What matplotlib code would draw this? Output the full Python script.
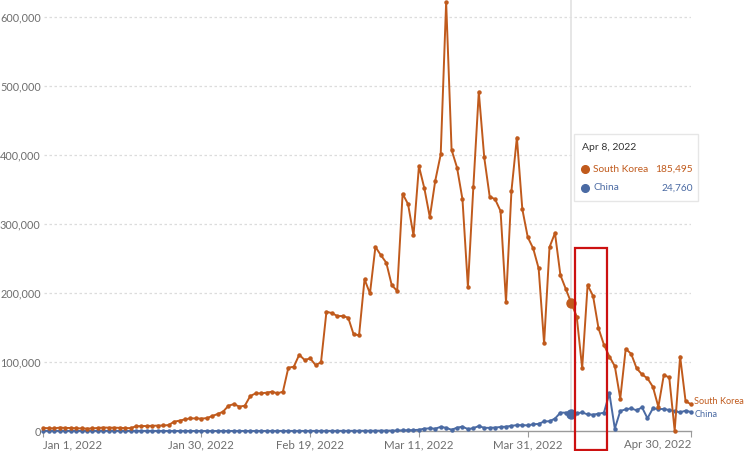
import numpy as np
import pandas as pd
import matplotlib
matplotlib.use("Agg")
import matplotlib.pyplot as plt
from matplotlib.patches import Rectangle, FancyBboxPatch

plt.rcParams['font.family'] = ['Lato', 'DejaVu Sans']

# daily new cases, Jan 1 .. Apr 30 2022 (thousands)
dates = pd.date_range("2022-01-01", "2022-04-30", freq="D")

south_korea_k = [
    4.4, 4.0, 3.8, 5.0, 4.4, 4.4, 4.0, 3.8, 3.5, 3.8,
    4.4, 5.0, 4.8, 4.8, 4.6, 4.2, 4.2, 6.8, 7.2, 7.2,
    7.6, 7.8, 8.0, 8.6, 13.5, 15.0, 16.9, 18.4, 18.2, 18.0,
    18.6, 21.7, 24.6, 28.0, 36.7, 39.0, 35.3, 36.7, 50.7, 54.6,
    54.6, 55.6, 57.0, 54.6, 57.0, 91.8, 93.2, 110.6, 102.9, 105.3,
    95.7, 99.5, 172.9, 171.0, 166.7, 166.7, 164.3, 140.0, 139.0, 220.0,
    199.5, 267.0, 255.0, 244.0, 211.6, 203.0, 344.0, 329.0, 283.6, 384.0,
    351.7, 310.0, 363.0, 401.0, 622.0, 407.7, 382.0, 336.0, 209.0, 354.0,
    491.8, 396.7, 340.0, 336.0, 319.0, 187.0, 348.0, 425.6, 321.7, 281.0,
    264.7, 235.8, 127.0, 266.7, 287.0, 226.0, 205.8, 185.495, 165.8, 91.0,
    211.6, 195.8, 149.0, 125.0, 108.0, 94.0, 47.0, 119.0, 112.0, 91.0,
    82.0, 76.4, 64.0, 35.0, 81.0, 77.8, 0.5, 108.0, 43.5, 38.6,
]
china_k = [
    0.18, 0.16, 0.19, 0.17, 0.15, 0.16, 0.17, 0.15, 0.19, 0.18,
    0.16, 0.14, 0.17, 0.15, 0.14, 0.16, 0.12, 0.11, 0.12, 0.10,
    0.09, 0.08, 0.07, 0.06, 0.07, 0.06, 0.07, 0.06, 0.06, 0.05,
    0.06, 0.05, 0.06, 0.07, 0.06, 0.08, 0.09, 0.08, 0.07, 0.09,
    0.10, 0.08, 0.09, 0.11, 0.10, 0.12, 0.11, 0.13, 0.12, 0.15,
    0.14, 0.16, 0.18, 0.17, 0.19, 0.21, 0.23, 0.25, 0.28, 0.30,
    0.35, 0.42, 0.48, 0.55, 0.60, 0.75, 1.0, 1.2, 1.3, 1.8,
    3.4, 3.8, 3.4, 6.0, 4.6, 1.8, 4.8, 6.3, 2.8, 4.1,
    7.2, 4.6, 4.6, 5.0, 5.8, 6.3, 7.5, 8.5, 8.5, 8.2,
    9.7, 10.3, 13.8, 14.2, 18.0, 26.6, 26.6, 24.76, 25.6, 27.0,
    24.0, 23.7, 25.0, 26.6, 54.6, 3.4, 29.0, 31.4, 32.8, 30.0,
    34.3, 18.4, 32.8, 31.9, 31.9, 30.4, 29.0, 27.0, 29.5, 27.5,
]
south_korea = np.array(south_korea_k) * 1000
china = np.array(china_k) * 1000

tick_dates = ["2022-01-01", "2022-01-30", "2022-02-19", "2022-03-11", "2022-03-31", "2022-04-30"]
tick_labels = ["Jan 1, 2022", "Jan 30, 2022", "Feb 19, 2022", "Mar 11, 2022", "Mar 31, 2022", "Apr 30, 2022"]
y_ticks = [0, 100000, 200000, 300000, 400000, 500000, 600000]

hover_date = pd.Timestamp("2022-04-08")
sk_hover, cn_hover = 185495, 24760

SK_COL = "#c05a1c"
CN_COL = "#4a6aa3"
GREY = "#6e6e6e"

fig = plt.figure(figsize=(7.44, 4.51), dpi=100)
ax = fig.add_axes([43.5 / 744, 1 - 431 / 451, 647.5 / 744, 431 / 451])

ax.set_xlim(dates[0], dates[-1])
ax.set_ylim(0, 625000)

for v in y_ticks[1:]:
    ax.axhline(v, color="#dcdcdc", lw=0.9, ls=(0, (2, 2)), zorder=0)

ax.axvline(hover_date, color="#e2e2e2", lw=1.2, zorder=1)

ax.plot(dates, china, color=CN_COL, lw=1.4, marker="o", ms=2.2, zorder=3, clip_on=False)
ax.plot(dates, south_korea, color=SK_COL, lw=1.4, marker="o", ms=2.2, zorder=4, clip_on=False)
ax.plot([hover_date], [cn_hover], "o", color=CN_COL, ms=6.5, zorder=5)
ax.plot([hover_date], [sk_hover], "o", color=SK_COL, ms=6.5, zorder=5)

for s in ["top", "right", "left"]:
    ax.spines[s].set_visible(False)
ax.spines["bottom"].set_color("#9a9a9a")
ax.spines["bottom"].set_linewidth(1.0)

ax.set_yticks(y_ticks)
ax.set_yticklabels([f"{v:,}" for v in y_ticks], color=GREY, fontsize=7.8)
ax.tick_params(axis="y", length=0, pad=2)

ax.set_xticks([pd.Timestamp(d) for d in tick_dates])
ax.set_xticklabels(tick_labels, color=GREY, fontsize=8.3)
ax.tick_params(axis="x", length=4, color="#9a9a9a", pad=2)
xl = ax.get_xticklabels()
xl[0].set_ha("left")
xl[-1].set_ha("right")

# end labels
ax.text(dates[-1] + pd.Timedelta(days=0.6), south_korea[-1] + 4000, "South Korea",
        color=SK_COL, fontsize=6.6, va="center", ha="left", clip_on=False)
ax.text(dates[-1] + pd.Timedelta(days=0.6), china[-1] - 3000, "China",
        color=CN_COL, fontsize=6.6, va="center", ha="left", clip_on=False)

# tooltip
box = FancyBboxPatch((574 / 744, 1 - 201 / 451), 124 / 744, 67 / 451,
                     boxstyle="square,pad=0", transform=fig.transFigure,
                     facecolor="white", edgecolor="#e6e6e6", lw=1.0, zorder=10)
fig.add_artist(box)
fig.text(582 / 744, 1 - 148 / 451, "Apr 8, 2022", color="#333333", fontsize=7.5,
         va="center", ha="left", zorder=11)
for yy, name, val, col in [(169, "South Korea", sk_hover, SK_COL), (188, "China", cn_hover, CN_COL)]:
    fig.add_artist(plt.Line2D([585 / 744], [1 - yy / 451], marker="o", color=col, ms=5.5,
                              transform=fig.transFigure, zorder=11))
    fig.text(593 / 744, 1 - yy / 451, name, color=col, fontsize=7.3, va="center", ha="left", zorder=11)
    fig.text(693 / 744, 1 - yy / 451, f"{val:,}", color=col, fontsize=7.3, va="center", ha="right", zorder=11)

# red highlight box
fig.add_artist(Rectangle((575 / 744, 1 / 451), 32 / 744, 202 / 451, transform=fig.transFigure,
                         fill=False, edgecolor="#cc1111", lw=1.6, zorder=12))

fig.savefig("out.png", dpi=100)
